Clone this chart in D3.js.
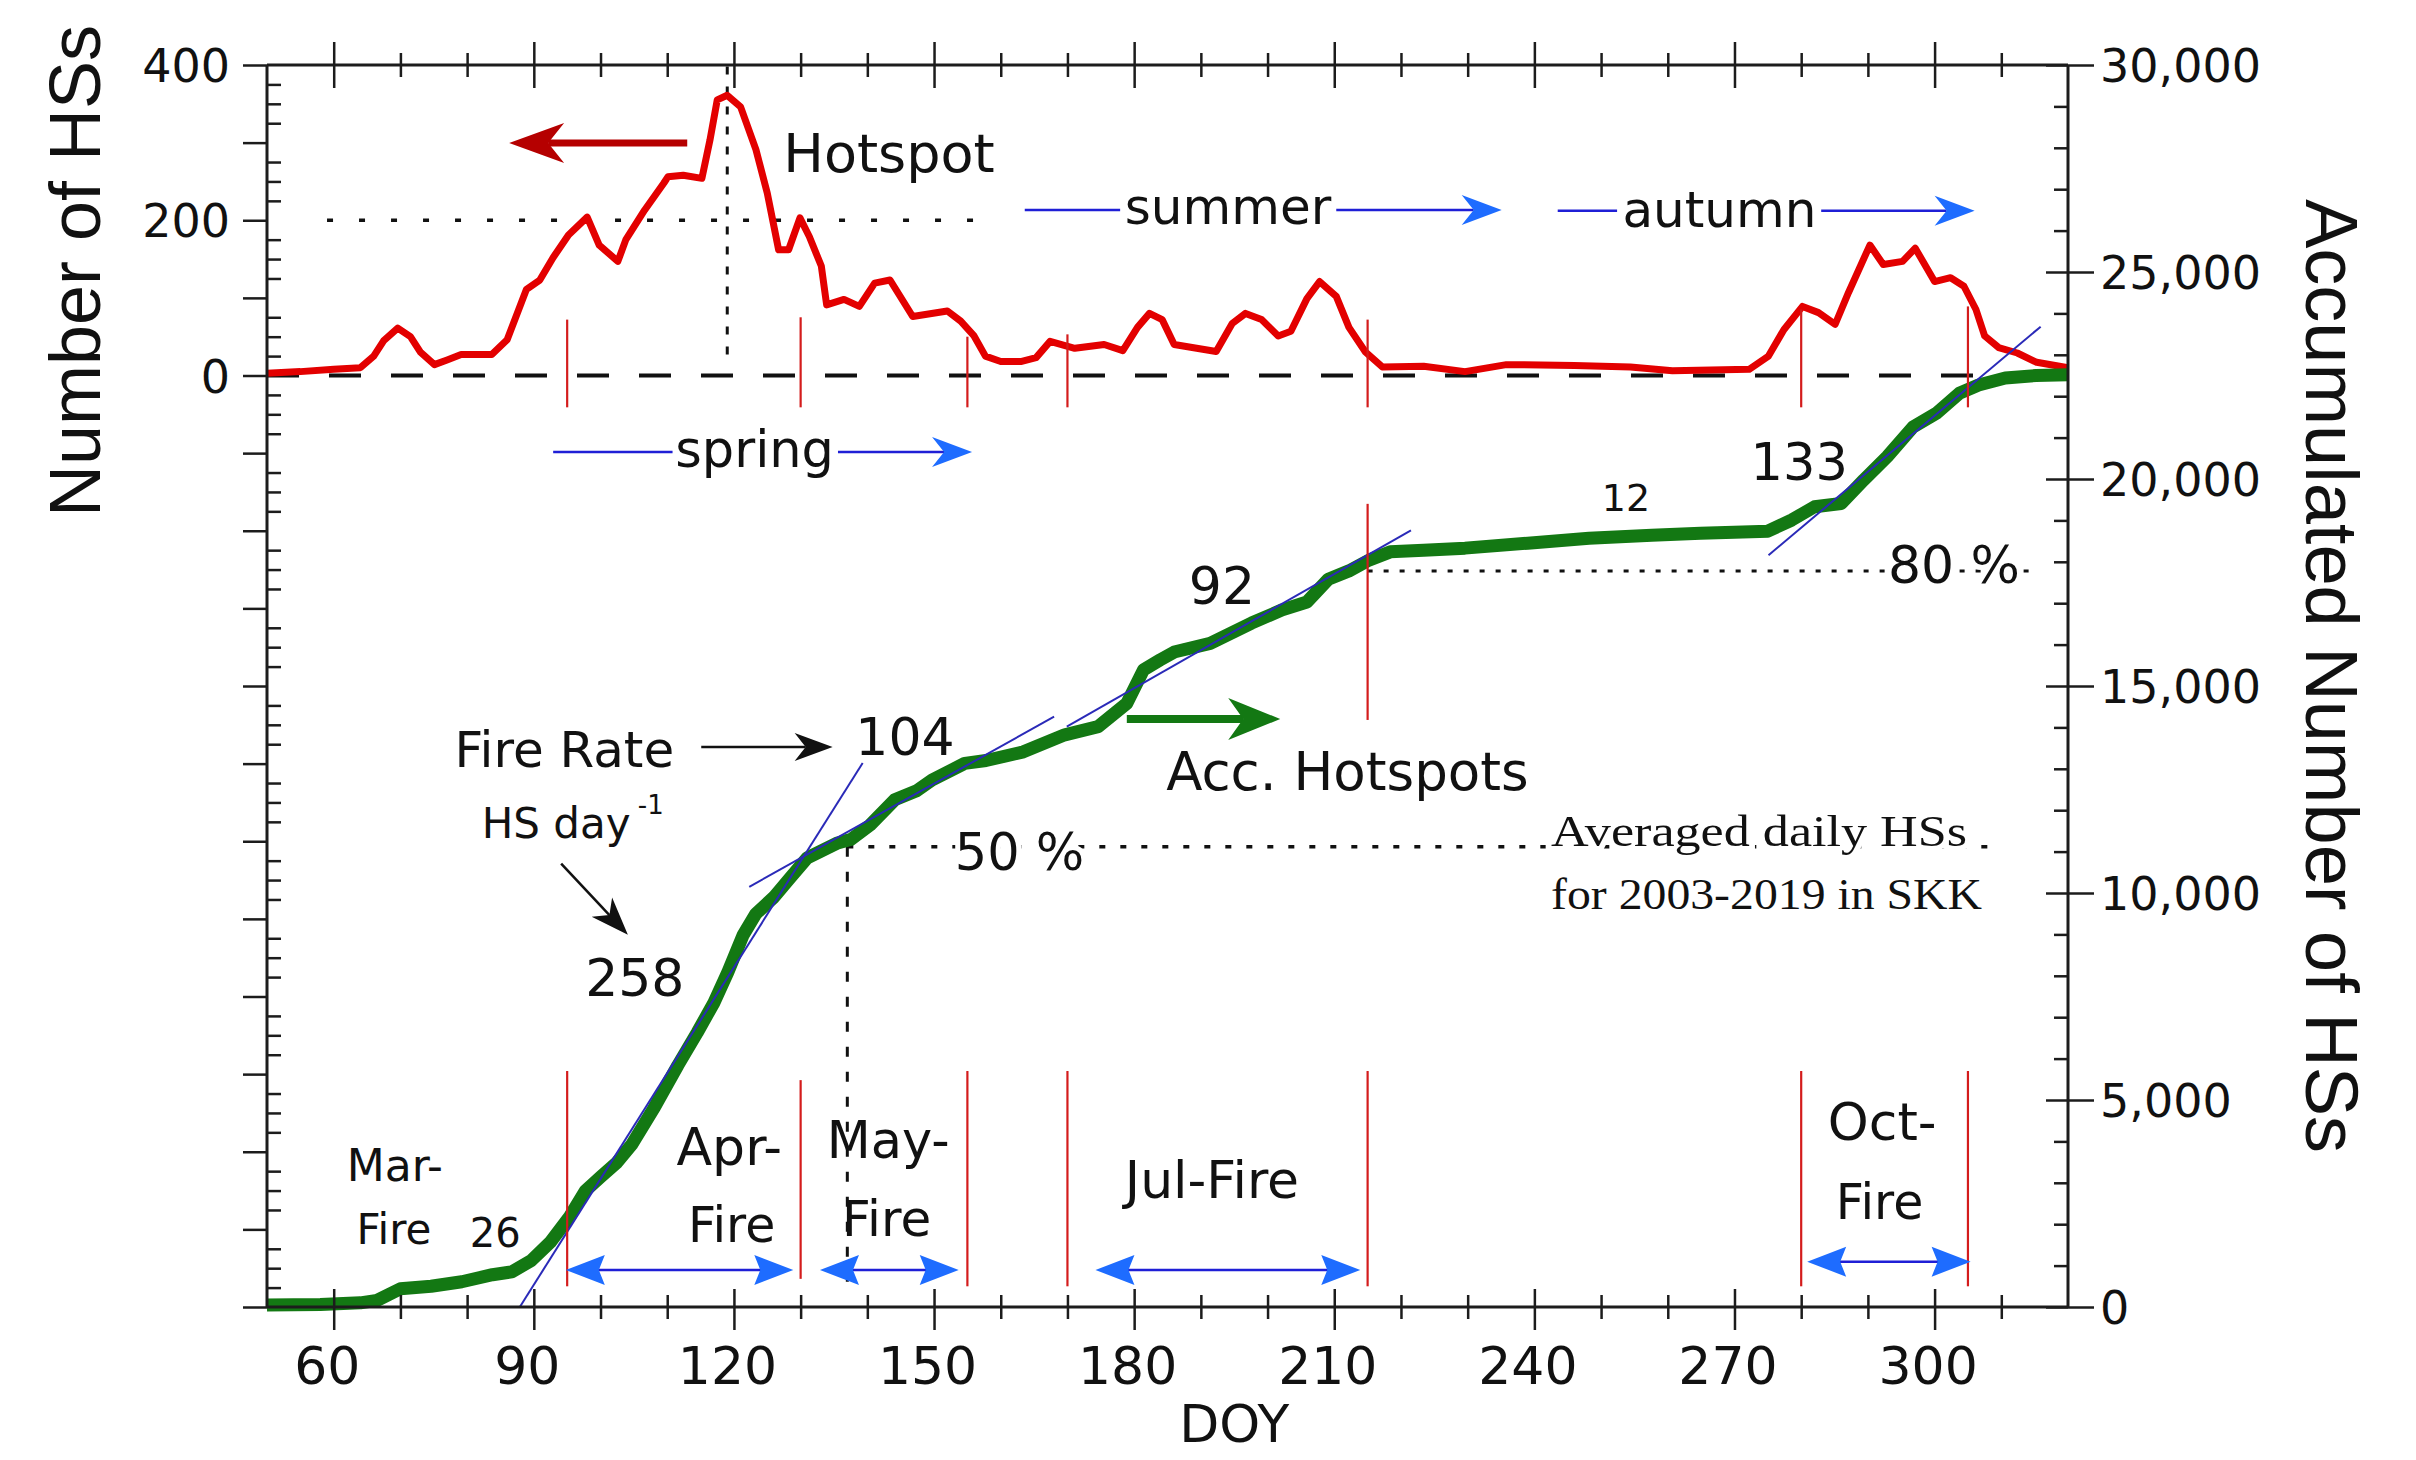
<!DOCTYPE html>
<html>
<head>
<meta charset="utf-8">
<script src="https://cdn.jsdelivr.net/npm/d3@7"></script>
<style>
  html, body { margin: 0; padding: 0; background: #fff; }
  svg { display: block; }
</style>
</head>
<body>
<svg id="chart" width="2416" height="1460" font-family="DejaVu Sans, sans-serif" fill="#111"></svg>
<script>
//DATA
// daily hotspots, left axis
const dailyDoy = [50,55,60,64,66,67.5,69.6,71.5,73,75.1,
  77,79.1,83.7,86,88.9,90.9,92.9,95.2,98,99.8,
  102.6,103.8,106.6,109.5,110.1,112.4,115.2,116.4,117.5,119,
  121,123.3,125,126.7,128.2,129.9,131.3,133.1,133.9,136.5,
  138.8,141.1,143.4,146.8,152,154,156,157.7,160,163,
  165.3,167.4,171.1,175.5,178.3,180.5,182.3,184.2,186,192.3,
  194.7,196.7,199.1,201.6,203.5,205.9,207.8,210.3,212.2,214.7,
  217.2,223.4,229.6,235.8,246,254.4,260.7,272.2,275.1,277.4,
  280.2,282.6,285.1,287.1,290.3,292.3,295.2,297.1,300,302.4,
  304.4,306.2,307.5,309.6,312.4,315.3,320];
const dailyHs = [3,5,8,10,25,45,61,50,30,14,
  20,27,27,46,111,123,152,181,204,168,
  147,175,213,248,256,258,254,303,355,361,
  346,291,235,162,162,203,179,141,91,98,
  89,119,123,76,83,70,51,25,18,18,
  23,44,35,40,32,62,80,72,40,31,
  67,80,72,51,57,99,121,102,62,30,
  11,12,5,14,13,11,6,8,25,59,
  89,81,66,107,168,143,147,164,121,126,
  115,85,51,36,29,17,10];

// accumulated hotspots, right axis
const accDoy = [50,58,64,66.5,70,74.6,79.2,83.8,86.7,89.6,
  92.5,95.4,97.7,100,102.4,104.7,108.1,111.6,114.5,117,
  119.1,121.4,123.3,126,128.3,131,135.4,137.6,140.4,144.1,
  147.4,149.7,154.6,157.8,163.4,169.6,174.6,178.9,181.4,183.9,
  186,191.4,197.6,202.2,205.9,209.1,212.2,215.2,218.4,223.4,
  229.6,239,248.2,257.6,264.9,275,278.6,282,286,289.4,
  292.9,296.8,300.3,303.7,306.6,310.6,315.2,320];
const accHs = [50,60,100,160,440,500,610,780,850,1120,
  1570,2190,2800,3140,3480,3930,4830,5840,6630,7350,
  8090,8990,9500,9900,10340,10850,11200,11300,11640,12250,
  12470,12730,13130,13200,13410,13820,14020,14580,15390,15630,
  15820,16030,16520,16840,17030,17580,17780,18040,18240,18280,
  18330,18450,18570,18640,18690,18740,19010,19330,19410,19980,
  20540,21260,21590,22070,22270,22440,22500,22520];

const xMajorTicks = [60, 90, 120, 150, 180, 210, 240, 270, 300];
const leftTickLabels = [0, 200, 400];
const rightTickLabels = [0, 5000, 10000, 15000, 20000, 25000, 30000];

// fire period boundaries (DOY)
const fireBounds = [95, 130, 155, 170, 215, 280, 305];
// linear fits of the accumulated curve: [doy0, acc0, doy1, acc1]
const rateFits = [[87.9, 0, 139.3, 13140], [122.3, 10150, 168.0, 14260],
                  [169.9, 14020, 221.5, 18760], [275.1, 18160, 315.9, 23680]];
const peakDoy = 119;
const halfLevel = 11120;     // 50 % of total
const halfDoy = 137;
const eightyLevel = 17780;   // 80 % of total
const eightyDoy = 215;

//LAYOUT
const plot = {left: 267, right: 2068, top: 65, bottom: 1307};
const axisColor = '#1c1c1c';
const redC = '#e30000', darkRed = '#b50000', greenC = '#137813';
const blueLine = '#1f1fd6', blueHead = '#1e6cff', fitBlue = '#2a2ab8';
const sansFont = 'DejaVu Sans, sans-serif';

const svg = d3.select('#chart');
const x = d3.scaleLinear().domain([50, 320]).range([plot.left, plot.right]);
const yL = d3.scaleLinear().domain([-1200, 400]).range([plot.bottom, plot.top]);
const yR = d3.scaleLinear().domain([0, 30000]).range([plot.bottom, plot.top]);

function seg(g, x1, y1, x2, y2, color, w, dash) {
  const l = g.append('line')
    .attr('x1', x1).attr('y1', y1).attr('x2', x2).attr('y2', y2)
    .attr('stroke', color).attr('stroke-width', w);
  if (dash) l.attr('stroke-dasharray', dash);
  return l;
}

function headPath(tx, ty, dx, dy, len, half, notch) {
  const L = Math.hypot(dx, dy), ux = dx / L, uy = dy / L, nx = -uy, ny = ux;
  const bx = tx - ux * len, by = ty - uy * len;
  const mx = tx - ux * (len - notch), my = ty - uy * (len - notch);
  return `M${tx},${ty}L${bx + nx * half},${by + ny * half}L${mx},${my}L${bx - nx * half},${by - ny * half}Z`;
}

function arrow(g, x1, y1, x2, y2, lineColor, headColor, w, len, half, notch) {
  const dx = x2 - x1, dy = y2 - y1, L = Math.hypot(dx, dy);
  seg(g, x1, y1, x2 - dx / L * (len - notch), y2 - dy / L * (len - notch), lineColor, w);
  g.append('path').attr('d', headPath(x2, y2, dx, dy, len, half, notch)).attr('fill', headColor);
}

function drawAxes() {
  const g = svg.append('g');
  // bottom
  const gb = g.append('g').attr('transform', `translate(0,${plot.bottom})`)
    .call(d3.axisBottom(x).tickValues(xMajorTicks).tickSize(23).tickSizeOuter(0));
  gb.select('.domain').remove();
  gb.selectAll('.tick line').attr('y1', -18).attr('stroke', axisColor).attr('stroke-width', 2.5);
  gb.selectAll('.tick text').attr('y', 77).attr('dy', null).attr('dx', -7)
    .attr('font-size', 52).attr('font-family', sansFont).attr('fill', '#111');
  // top
  const gt = g.append('g').attr('transform', `translate(0,${plot.top})`)
    .call(d3.axisTop(x).tickValues(xMajorTicks).tickSize(23).tickSizeOuter(0).tickFormat(''));
  gt.select('.domain').remove();
  gt.selectAll('.tick line').attr('y2', 23).attr('y1', -23).attr('stroke', axisColor).attr('stroke-width', 2.5);
  const minorX = d3.range(70, 320, 10).filter(d => d % 30 !== 0);
  [plot.top, plot.bottom].forEach(yy => {
    const gm = g.append('g').attr('transform', `translate(0,${yy})`)
      .call(d3.axisBottom(x).tickValues(minorX).tickSize(12).tickSizeOuter(0).tickFormat(''));
    gm.select('.domain').remove();
    gm.selectAll('.tick line').attr('y1', -12).attr('stroke', axisColor).attr('stroke-width', 2.5);
  });

  // left
  const gl = g.append('g').attr('transform', `translate(${plot.left},0)`)
    .call(d3.axisLeft(yL).tickValues(d3.range(-1200, 401, 100)).tickSize(24).tickSizeOuter(0)
      .tickFormat(d => leftTickLabels.includes(d) ? d : ''));
  gl.select('.domain').remove();
  gl.selectAll('.tick line').attr('stroke', axisColor).attr('stroke-width', 2.5);
  gl.selectAll('.tick text').attr('x', -37).attr('dy', '0.36em')
    .attr('font-size', 46).attr('font-family', sansFont).attr('fill', '#111');
  const gl2 = g.append('g').attr('transform', `translate(${plot.left},0)`)
    .call(d3.axisRight(yL).tickValues(d3.range(-1175, 400, 25).filter(d => d % 100 !== 0))
      .tickSize(14).tickSizeOuter(0).tickFormat(''));
  gl2.select('.domain').remove();
  gl2.selectAll('.tick line').attr('stroke', axisColor).attr('stroke-width', 2.5);

  // right
  const gr = g.append('g').attr('transform', `translate(${plot.right},0)`)
    .call(d3.axisRight(yR).tickValues(rightTickLabels).tickSize(26).tickSizeOuter(0)
      .tickFormat(d3.format(',')));
  gr.select('.domain').remove();
  gr.selectAll('.tick line').attr('x1', -22).attr('stroke', axisColor).attr('stroke-width', 2.5);
  gr.selectAll('.tick text').attr('x', 32).attr('dy', '0.36em')
    .attr('font-size', 46).attr('font-family', sansFont).attr('fill', '#111');
  const gr2 = g.append('g').attr('transform', `translate(${plot.right},0)`)
    .call(d3.axisLeft(yR).tickValues(d3.range(1000, 30000, 1000).filter(d => d % 5000 !== 0))
      .tickSize(14).tickSizeOuter(0).tickFormat(''));
  gr2.select('.domain').remove();
  gr2.selectAll('.tick line').attr('stroke', axisColor).attr('stroke-width', 2.5);

  // frame lines
  seg(g, plot.left, plot.top, plot.right, plot.top, axisColor, 3);
  seg(g, plot.left, plot.bottom, plot.right, plot.bottom, axisColor, 3);
  seg(g, plot.left, plot.top, plot.left, plot.bottom, axisColor, 3);
  seg(g, plot.right, plot.top, plot.right, plot.bottom, axisColor, 3);

  // titles
  svg.append('text').attr('transform', `translate(100,271) rotate(-90)`)
    .attr('text-anchor', 'middle').attr('font-family', 'Liberation Sans, Arial, sans-serif')
    .attr('font-size', 72).text('Number of HSs');
  svg.append('text').attr('transform', `translate(2306,676) rotate(90)`)
    .attr('text-anchor', 'middle').attr('font-family', 'Liberation Sans, Arial, sans-serif')
    .attr('font-size', 74).text('Accumulated Number of HSs');
  svg.append('text').attr('x', x(195)).attr('y', 1442).attr('text-anchor', 'middle')
    .attr('font-size', 52).text('DOY');
}

function drawGuides() {
  const g = svg.append('g');
  // zero line of the daily axis
  seg(g, x(50), yL(0), x(320), yL(0), '#111', 4, '32,30');
  // 200 level
  seg(g, x(59), yL(200), x(159), yL(200), '#111', 3.5, '6,26');
  // peak
  seg(g, x(peakDoy), yL(398), x(peakDoy), yL(24), '#111', 3, '8,12');
  // 50 %
  seg(g, x(halfDoy), yR(halfLevel), x(308), yR(halfLevel), '#111', 3.5, '6,15');
  seg(g, x(halfDoy), yR(halfLevel), x(halfDoy), yR(440), '#111', 3, '10,15');
  // 80 %
  seg(g, x(eightyDoy), yR(eightyLevel), x(314.3), yR(eightyLevel), '#111', 3, '5,11');
}

function drawCurves() {
  const g = svg.append('g');
  const daily = dailyDoy.map((d, i) => [d, dailyHs[i]]);
  const acc = accDoy.map((d, i) => [d, accHs[i]]);
  g.append('path').datum(daily)
    .attr('d', d3.line().x(d => x(d[0])).y(d => yL(d[1])))
    .attr('fill', 'none').attr('stroke', redC).attr('stroke-width', 7)
    .attr('stroke-linejoin', 'round');
  g.append('path').datum(acc)
    .attr('d', d3.line().x(d => x(d[0])).y(d => yR(d[1])))
    .attr('fill', 'none').attr('stroke', greenC).attr('stroke-width', 13)
    .attr('stroke-linejoin', 'round');

  // fitted rates
  rateFits.forEach(f => {
    seg(g, x(f[0]), yR(f[1]), x(f[2]), yR(f[3]), fitBlue, 2);
  });

  // fire period boundaries
  const upperTop = [72, 75, 50, 53, 72, 85, 89];
  fireBounds.forEach((d, i) => {
    seg(g, x(d), yL(upperTop[i]), x(d), yL(-41), '#d41c1c', 2.2);
    seg(g, x(d), yR(d === 130 ? 5480 : 5700), x(d), yR(d === 130 ? 680 : 500), '#d41c1c', 2.2);
  });
  seg(g, x(215), yR(19400), x(215), yR(14180), '#d41c1c', 2.2);
}

function drawNotes() {
  const g = svg.append('g');

  const notes = [
    {t: 'Hotspot', d: 127.4, v: 27416, s: 54},
    {t: 'spring', d: 111.2, v: 20290, s: 51},
    {t: 'summer', d: 178.6, v: 26160, s: 50},
    {t: 'autumn', d: 253.2, v: 26095, s: 50},
    {t: 'Fire Rate', d: 78.1, v: 13044, s: 50},
    {t: 'HS day', d: 82.2, v: 11317, s: 42},
    {t: '-1', d: 105.6, v: 11908, s: 26},
    {t: '104', d: 138.2, v: 13334, s: 52},
    {t: '258', d: 97.7, v: 7512, s: 52},
    {t: '92', d: 188.2, v: 16981, s: 52},
    {t: 'Acc. Hotspots', d: 184.8, v: 12488, s: 53},
    {t: '12', d: 250.1, v: 19227, s: 38},
    {t: '133', d: 272.4, v: 19976, s: 51},
    {t: '26', d: 80.4, v: 1454, s: 40},
    {t: 'Mar-', d: 61.95, v: 3053, s: 44},
    {t: 'Fire', d: 63.4, v: 1512, s: 42},
    {t: 'Apr-', d: 111.4, v: 3430, s: 52},
    {t: 'Fire', d: 113.1, v: 1570, s: 49},
    {t: 'May-', d: 133.9, v: 3599, s: 51},
    {t: 'Fire', d: 136.2, v: 1715, s: 50},
    {t: 'Jul-Fire', d: 178.6, v: 2633, s: 52},
    {t: 'Oct-', d: 284.0, v: 4041, s: 52},
    {t: 'Fire', d: 285.2, v: 2130, s: 49}
  ];
  g.selectAll('text.note').data(notes).enter().append('text')
    .attr('class', 'note')
    .attr('x', d => x(d.d)).attr('y', d => yR(d.v))
    .attr('font-size', d => d.s).text(d => d.t);

  const haloNotes = [
    {t: '50 %', d: 153.1, v: 10556, s: 51},
    {t: '80 %', d: 293.0, v: 17488, s: 52}
  ];
  g.selectAll('text.halo').data(haloNotes).enter().append('text')
    .attr('class', 'halo')
    .attr('x', d => x(d.d)).attr('y', d => yR(d.v))
    .attr('font-size', d => d.s)
    .attr('stroke', '#fff').attr('stroke-width', 10).attr('paint-order', 'stroke')
    .text(d => d.t);

  const serif = [
    {t: 'Averaged daily HSs', v: 11135, w: 416},
    {t: 'for 2003-2019 in SKK', v: 9614, w: 431}
  ];
  g.selectAll('text.serif').data(serif).enter().append('text')
    .attr('class', 'serif')
    .attr('x', x(242.5)).attr('y', d => yR(d.v))
    .attr('font-family', 'Liberation Serif, DejaVu Serif, serif')
    .attr('font-size', 45)
    .attr('textLength', d => d.w).attr('lengthAdjust', 'spacingAndGlyphs')
    .attr('stroke', '#fff').attr('stroke-width', 10).attr('paint-order', 'stroke')
    .text(d => d.t);

  // hotspot arrow (to the left axis)
  arrow(g, x(113.0), yR(28117), x(86.3), yR(28117), darkRed, darkRed, 7, 55, 20, 16);

  // season arrows
  const seasons = [
    {v: 20652, a: [92.9, 110.8], b: [135.6, 155.7]},
    {v: 26498, a: [163.6, 177.9], b: [210.3, 235.1]},
    {v: 26481, a: [243.5, 252.4], b: [283.0, 306.0]}
  ];
  seasons.forEach(s => {
    seg(g, x(s.a[0]), yR(s.v), x(s.a[1]), yR(s.v), blueLine, 2.5);
    arrow(g, x(s.b[0]), yR(s.v), x(s.b[1]), yR(s.v), blueLine, blueHead, 2.5, 40, 15, 12);
  });

  // black pointer arrows
  arrow(g, x(115.1), yR(13527), x(134.8), yR(13527), '#111', '#111', 2.5, 38, 14, 11);
  arrow(g, x(94.1), yR(10711), x(104.1), yR(8990), '#111', '#111', 2.5, 38, 14, 11);

  // green arrow
  arrow(g, x(178.9), yR(14203), x(201.9), yR(14203), greenC, greenC, 8, 52, 21, 15);

  // fire period double arrows
  const spans = [[94.8, 128.9, 894], [132.9, 153.7, 894], [174.2, 213.9, 894], [280.9, 305.4, 1094]];
  spans.forEach(s => {
    const x1 = x(s[0]), x2 = x(s[1]), yy = yR(s[2]);
    seg(g, x1 + 30, yy, x2 - 30, yy, blueLine, 2.5);
    g.append('path').attr('d', headPath(x1, yy, -1, 0, 39, 15, 6)).attr('fill', blueHead);
    g.append('path').attr('d', headPath(x2, yy, 1, 0, 39, 15, 6)).attr('fill', blueHead);
  });
}

drawGuides();
drawCurves();
drawAxes();
drawNotes();
</script>
</body>
</html>
